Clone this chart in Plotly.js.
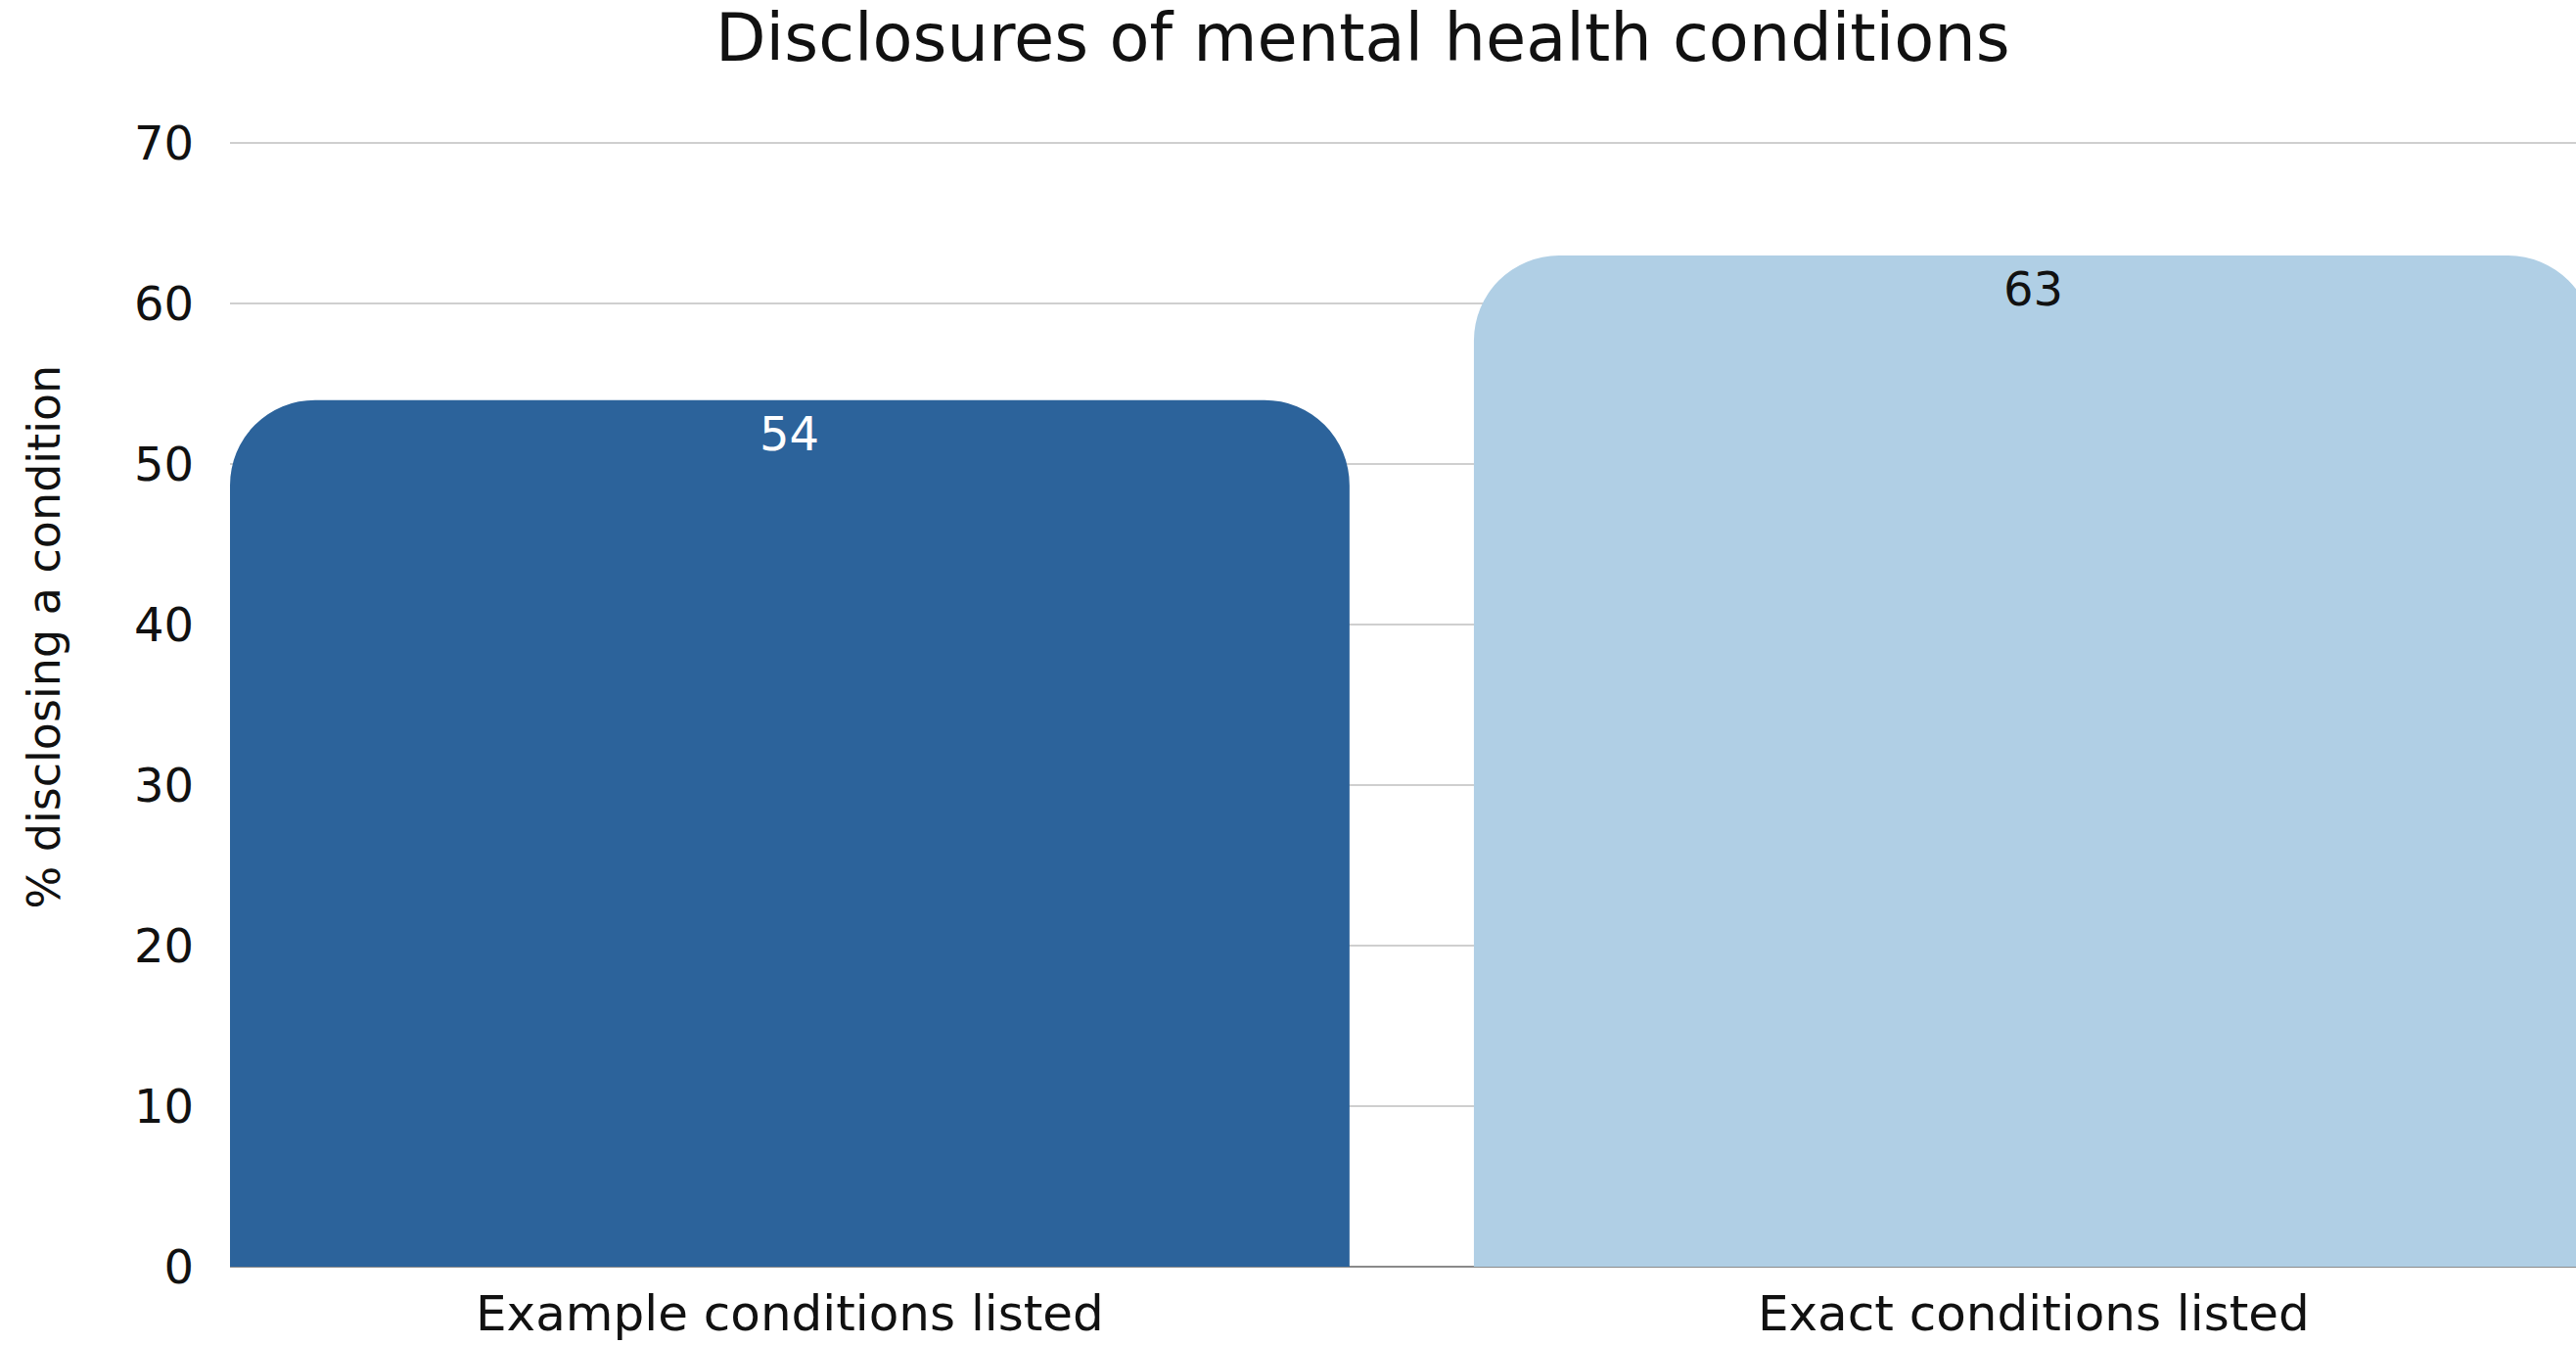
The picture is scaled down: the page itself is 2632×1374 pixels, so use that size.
<!DOCTYPE html>
<html>
<head>
<meta charset="utf-8">
<script src="https://cdn.plot.ly/plotly-3.0.1.min.js"></script>
<style>html,body{margin:0;padding:0;background:#fff;}#chart{width:2632px;height:1374px;}</style>
</head>
<body>
<div id="chart"></div>
<script>
const categories = ["Example conditions listed", "Exact conditions listed"];
const values = [54, 63];
const barColors = ["#2C639B", "#B0CFE5"];
const textColors = ["#ffffff", "#111111"];
const yTicks = [0, 10, 20, 30, 40, 50, 60, 70];

const FONT = "DejaVu Sans, sans-serif";

const trace = {
  type: "bar",
  x: categories,
  y: values,
  textposition: "none",
  marker: {color: barColors, cornerradius: 87},
  hoverinfo: "none"
};

const valueLabels = categories.map((c, i) => ({
  x: c, y: values[i], xref: "x", yref: "y",
  text: String(values[i]),
  showarrow: false,
  yanchor: "middle", xanchor: "center",
  yshift: -34,
  font: {family: FONT, size: 48, color: textColors[i]}
}));

const layout = {
  width: 2632,
  height: 1374,
  margin: {l: 235, r: 0, t: 145, b: 80},
  paper_bgcolor: "#ffffff",
  plot_bgcolor: "#ffffff",
  bargap: 0.1,
  showlegend: false,
  font: {family: FONT, color: "#111111"},
  title: {
    text: "Disclosures of mental health conditions",
    font: {family: FONT, size: 67, color: "#111111"},
    x: 0.529, xanchor: "center", xref: "container",
    y: 0.972, yanchor: "middle", yref: "container"
  },
  xaxis: {
    type: "category",
    range: [-0.45, 1.436],
    showgrid: false,
    showline: false,
    zeroline: false,
    ticks: "",
    tickfont: {family: FONT, size: 50, color: "#111111"},
    ticklabelstandoff: 14
  },
  yaxis: {
    range: [0, 70.08],
    tickvals: yTicks,
    ticktext: yTicks.map(String),
    showgrid: true,
    gridcolor: "#cfcfcf",
    gridwidth: 2,
    zeroline: true,
    zerolinecolor: "#8a8a8a",
    zerolinewidth: 2,
    showline: false,
    ticks: "",
    ticklabelstandoff: 36,
    tickfont: {family: FONT, size: 48, color: "#111111"}
  },
  annotations: valueLabels.concat([{
    text: "% disclosing a condition",
    xref: "paper", yref: "paper",
    x: -0.0793, y: 0.56,
    xanchor: "center", yanchor: "middle",
    textangle: -90,
    showarrow: false,
    font: {family: FONT, size: 46, color: "#111111"}
  }])
};

Plotly.newPlot("chart", [trace], layout, {displayModeBar: false, staticPlot: true});
</script>
</body>
</html>
